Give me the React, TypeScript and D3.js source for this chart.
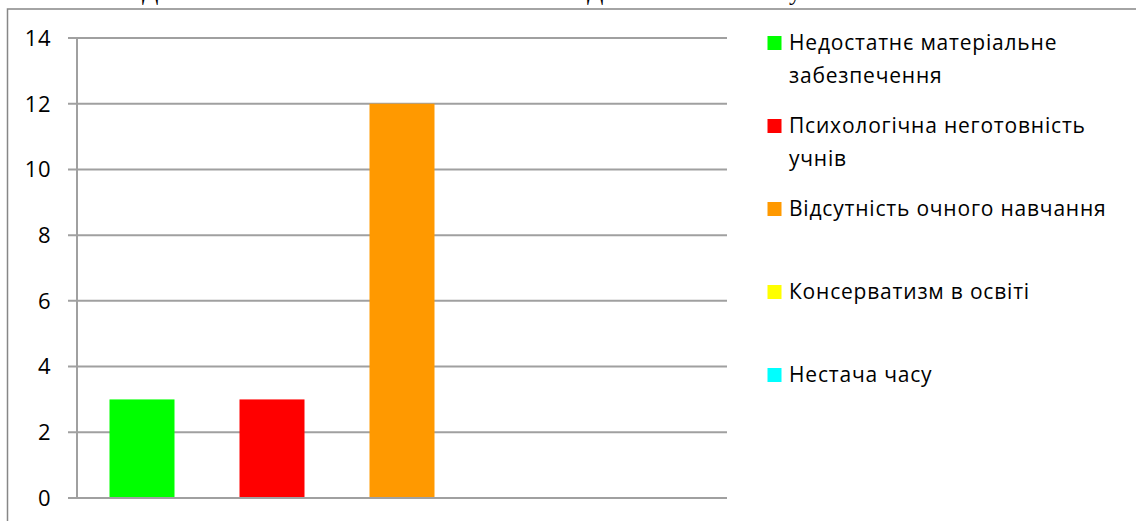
import React from "react";
import * as d3 from "d3";

const categories = [
  "Недостатнє матеріальне забезпечення",
  "Психологічна неготовність учнів",
  "Відсутність очного навчання",
  "Консерватизм в освіті",
  "Нестача часу",
];
const values = [3, 3, 12, 0, 0];
const colors = ["#00ff00", "#ff0000", "#ff9900", "#ffff00", "#00ffff"];
const legendLines = [
  ["Недостатнє матеріальне", "забезпечення"],
  ["Психологічна неготовність", "учнів"],
  ["Відсутність очного навчання"],
  ["Консерватизм в освіті"],
  ["Нестача часу"],
];
const yTicks = [0, 2, 4, 6, 8, 10, 12, 14];
const titleParts = ["Діяльність вчителів та виклики", "Домашнє навчання", "у школі"];

const W = 1136;
const H = 521;
const plot = { left: 77, right: 727, top: 38, bottom: 498 };
const FONT = "'Open Sans', sans-serif";

export default function App() {
  const x = d3
    .scaleBand<string>()
    .domain(categories)
    .range([plot.left, plot.right])
    .paddingInner(0.5)
    .paddingOuter(0.25);
  const y = d3.scaleLinear().domain([0, 14]).range([plot.bottom, plot.top]);
  const legendY = d3.scaleLinear().domain([0, 4]).range([50, 382]);
  const grid = "#a0a0a0";

  return (
    <svg
      width={W}
      height={H}
      style={{ position: "absolute", left: 0, top: 0, background: "#fff" }}
    >
      <text
        y={0}
        fontFamily="'Liberation Serif', serif"
        fontSize={24}
        fill="#000"
      >
        <tspan x={142}>{titleParts[0]}</tspan>
        <tspan x={587}>{titleParts[1]}</tspan>
        <tspan x={789}>{titleParts[2]}</tspan>
      </text>
      <rect
        x={7.5}
        y={9}
        width={W + 10}
        height={H + 10}
        fill="none"
        stroke="#878787"
        strokeWidth={1.5}
      />
      {yTicks.map((t) => (
        <g key={t}>
          <line
            x1={68}
            x2={plot.right}
            y1={y(t)}
            y2={y(t)}
            stroke={grid}
            strokeWidth={2}
          />
          <text
            x={51}
            y={y(t)}
            dy="0.36em"
            textAnchor="end"
            fontFamily={FONT}
            fontSize={22}
            letterSpacing={0.5}
            fill="#000"
          >
            {t}
          </text>
        </g>
      ))}
      <line
        x1={plot.left}
        x2={plot.left}
        y1={plot.top}
        y2={plot.bottom}
        stroke={grid}
        strokeWidth={2}
      />
      {categories.map((c, i) =>
        values[i] > 0 ? (
          <rect
            key={c}
            x={x(c)}
            y={y(values[i])}
            width={x.bandwidth()}
            height={y(0) - y(values[i]) - 1}
            fill={colors[i]}
          />
        ) : null
      )}
      {legendLines.map((lines, i) => (
        <g key={i}>
          <rect
            x={767.5}
            y={legendY(i) - 14}
            width={14}
            height={14}
            fill={colors[i]}
          />
          <text
            fontFamily={FONT}
            fontSize={21}
            letterSpacing={0.8}
            fill="#000"
          >
            {lines.map((ln, j) => (
              <tspan key={j} x={789} y={legendY(i) + j * 33}>
                {ln}
              </tspan>
            ))}
          </text>
        </g>
      ))}
    </svg>
  );
}
